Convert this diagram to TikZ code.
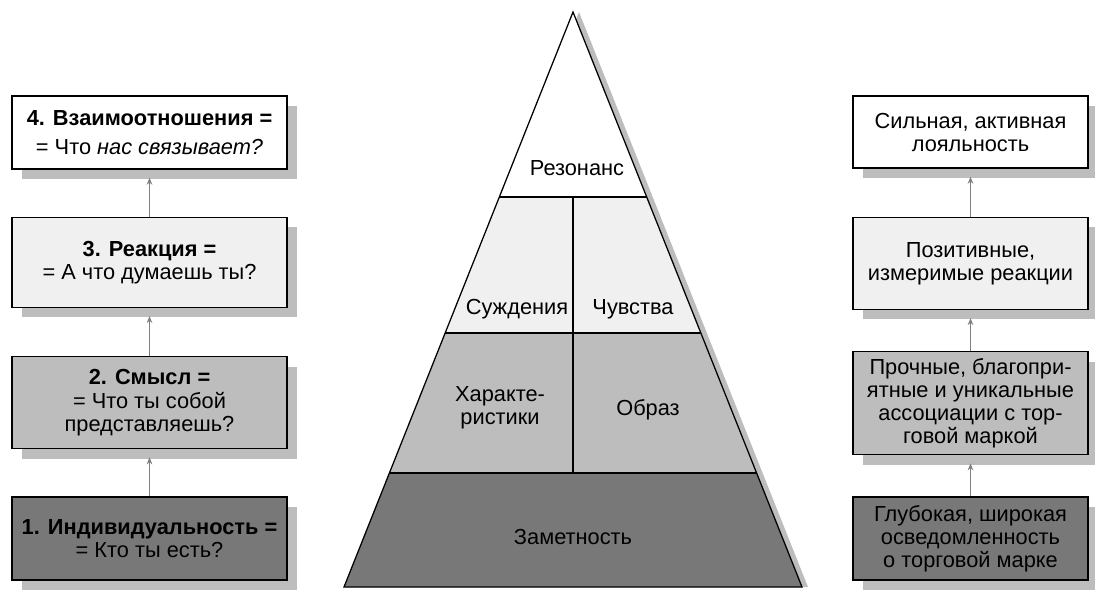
\documentclass[tikz,border=0pt]{standalone}
\usepackage{fontspec}
\setmainfont{Liberation Sans}
\usetikzlibrary{
  positioning,
  arrows.meta,
  shadows,
  calc
}
\definecolor{stippleLight}{gray}{0.94}
\definecolor{stippleMid}{gray}{0.74}
\definecolor{stippleDark}{gray}{0.47}
\definecolor{shadowGray}{gray}{0.74}
\definecolor{arrowGray}{gray}{0.5}
\tikzset{
  base/.style={
    draw, line width=0.9pt, align=center,
    font=\fontsize{15.5}{16.5}\selectfont, inner sep=2pt,
    general shadow={fill=shadowGray, shadow xshift=0.25cm,
                    shadow yshift=-0.25cm}
  },
  stepLeft/.style={base, minimum width=6.875cm},
  stepRight/.style={base, minimum width=5.875cm},
  toneWhite/.style={fill=white},
  toneLight/.style={fill=stippleLight},
  toneMid/.style={fill=stippleMid},
  toneDark/.style={fill=stippleDark},
  linkArrow/.style={
    draw=arrowGray, line width=0.7pt, shorten >=0.2cm,
    -{Stealth[length=5pt,width=4pt]}
  },
  layerLabel/.style={
    align=center, font=\fontsize{15.5}{16.5}\selectfont
  }
}

\begin{document}
\begin{tikzpicture}[x=0.025cm, y=-0.025cm]
\useasboundingbox (0,0) rectangle (1095,594);

% ── LEFT: brand building steps ─────────────────────────────────────
\node[stepLeft, toneDark, minimum height=2.075cm] (L1) at (149.5,538.5)
  {\textbf{1. Индивидуальность =}\\= Кто ты есть?};
\node[stepLeft, toneMid, minimum height=2.3cm, above=1.175cm of L1] (L2)
  {\textbf{2. Смысл =}\\= Что ты собой\\представляешь?};
\node[stepLeft, toneLight, minimum height=2.25cm, above=1.2cm of L2] (L3)
  {\textbf{3. Реакция =}\\= А что думаешь ты?};
\node[stepLeft, toneWhite, minimum height=1.825cm, above=1.175cm of L3] (L4)
  {\textbf{4. Взаимоотношения =}\\[4pt]= Что \textit{нас связывает?}};

\draw[linkArrow] (L1.north) -- (L2.south);
\draw[linkArrow] (L2.north) -- (L3.south);
\draw[linkArrow] (L3.north) -- (L4.south);

% ── CENTRE: pyramid ────────────────────────────────────────────────
\coordinate (apex)  at (573,12);
\coordinate (baseL) at (344,587);
\coordinate (baseR) at (802,587);
\coordinate (l1) at ($(apex)!0.3217!(baseL)$);
\coordinate (r1) at ($(apex)!0.3217!(baseR)$);
\coordinate (l2) at ($(apex)!0.5583!(baseL)$);
\coordinate (r2) at ($(apex)!0.5583!(baseR)$);
\coordinate (l3) at ($(apex)!0.8017!(baseL)$);
\coordinate (r3) at ($(apex)!0.8017!(baseR)$);
\coordinate (splitTop) at ($(l1)!0.5!(r1)$);
\coordinate (splitBot) at ($(l3)!0.5!(r3)$);

% shadow along the right side
\fill[shadowGray] ($(apex)+(6,0)$) -- ($(baseR)+(6,0)$) -- (baseL) -- cycle;

% layer fills
\fill[white]        (apex) -- (l1) -- (r1) -- cycle;
\fill[stippleLight] (l1) -- (r1) -- (r2) -- (l2) -- cycle;
\fill[stippleMid]   (l2) -- (r2) -- (r3) -- (l3) -- cycle;
\fill[stippleDark]  (l3) -- (r3) -- (baseR) -- (baseL) -- cycle;

% outline and dividers
\draw[line width=0.9pt, line join=miter] (apex) -- (baseR) -- (baseL) -- cycle;
\draw[line width=0.9pt] (l1) -- (r1) (l2) -- (r2) (l3) -- (r3);
\draw[line width=0.9pt] (splitTop) -- (splitBot);

\node[layerLabel] (resonance) at (577,168) {Резонанс};
\node[layerLabel] (judgements) at (517,309) {Суждения};
\node[layerLabel] (feelings)   at (633,309) {Чувства};
\node[layerLabel] (performance) at (500,408) {Характе-\\ристики};
\node[layerLabel] (imagery)    at (648,410) {Образ};
\node[layerLabel] (salience)   at (573,537) {Заметность};

% ── RIGHT: brand building goals ────────────────────────────────────
\node[stepRight, toneDark, minimum height=2.075cm] (R1) at (970.5,538.5)
  {Глубокая, широкая\\осведомленность\\о торговой марке};
\node[stepRight, toneMid, minimum height=2.575cm, above=1.025cm of R1] (R2)
  {Прочные, благопри-\\ятные и уникальные\\ассоциации с тор-\\говой маркой};
\node[stepRight, toneLight, minimum height=2.3cm, above=1.025cm of R2] (R3)
  {Позитивные,\\измеримые реакции};
\node[stepRight, toneWhite, minimum height=1.8cm, above=1.2cm of R3] (R4)
  {Сильная, активная\\лояльность};

\draw[linkArrow] (R1.north) -- (R2.south);
\draw[linkArrow] (R2.north) -- (R3.south);
\draw[linkArrow] (R3.north) -- (R4.south);

\end{tikzpicture}
\end{document}
